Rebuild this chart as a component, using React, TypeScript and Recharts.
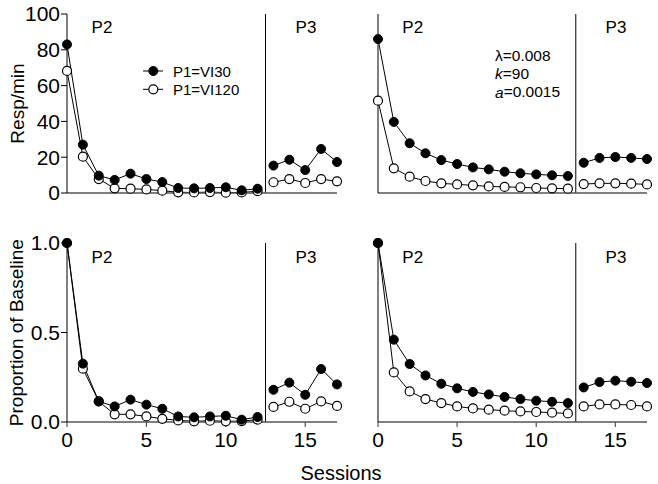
import React from "react";
import { LineChart, Line, XAxis, YAxis, ReferenceLine } from "recharts";

const sessions = [0, 1, 2, 3, 4, 5, 6, 7, 8, 9, 10, 11, 12, 13, 14, 15, 16, 17];
const phaseBreak = 12.5;
const lastP2Session = 12;

// Top-left: Resp/min (data)
const tlFilled = [83, 27, 9.7, 7.3, 10.8, 7.8, 6.1, 2.8, 2.6, 2.8, 3.2, 1.5, 2.4, 15.3, 18.6, 12.8, 24.6, 17.3];
const tlOpen = [68.2, 20.3, 7.8, 2.6, 2.4, 2.0, 1.3, 0.4, 0.3, 0.5, 0.2, 0.3, 1.0, 6.0, 7.8, 5.6, 7.8, 6.5];
// Top-right: Resp/min (model)
const trFilled = [86, 39.7, 27.8, 22.2, 18.4, 16.2, 14.3, 13.2, 11.9, 11.0, 10.4, 9.9, 9.5, 16.9, 19.6, 20.1, 19.6, 19.0];
const trOpen = [51.6, 13.8, 9.1, 6.7, 5.4, 4.8, 4.3, 3.7, 3.4, 3.2, 2.8, 2.6, 2.4, 5.0, 5.4, 5.4, 5.2, 4.8];
// Bottom-left: proportion of baseline (data)
const blFilled = [1.0, 0.326, 0.115, 0.087, 0.125, 0.097, 0.074, 0.031, 0.026, 0.031, 0.035, 0.013, 0.028, 0.18, 0.22, 0.152, 0.296, 0.21];
const blOpen = [1.0, 0.298, 0.115, 0.043, 0.043, 0.031, 0.018, 0.009, 0.004, 0.007, 0.004, 0.005, 0.013, 0.084, 0.113, 0.074, 0.115, 0.09];
// Bottom-right: proportion of baseline (model)
const brFilled = [1.0, 0.46, 0.324, 0.26, 0.214, 0.188, 0.168, 0.154, 0.14, 0.128, 0.119, 0.113, 0.106, 0.193, 0.223, 0.231, 0.225, 0.218];
const brOpen = [1.0, 0.277, 0.171, 0.128, 0.106, 0.087, 0.076, 0.069, 0.063, 0.059, 0.056, 0.052, 0.048, 0.087, 0.098, 0.098, 0.095, 0.087];

const respTicks = [0, 20, 40, 60, 80, 100];
const propTicks = [0, 0.5, 1.0];
const xTicks = [0, 5, 10, 15];
const legendLabels = ["P1=VI30", "P1=VI120"];

const FONT = "'Liberation Sans', Arial, Helvetica, sans-serif";

function buildRows(filled: number[], open: number[]) {
  return sessions.map((s, i) => {
    const p2 = s <= lastP2Session;
    return {
      x: s,
      fA: p2 ? filled[i] : null,
      oA: p2 ? open[i] : null,
      fB: p2 ? null : filled[i],
      oB: p2 ? null : open[i],
    };
  });
}

const filledDot = { r: 4.5, fill: "#000", stroke: "#000", strokeWidth: 1 };
const openDot = { r: 4.5, fill: "#fff", stroke: "#000", strokeWidth: 1.2 };

type PanelProps = {
  rows: any[];
  width: number;
  height: number;
  yWidth: number;
  xHeight: number;
  yDomain: [number, number];
  yTicks: number[];
  showY: boolean;
  showX: boolean;
  yFmt?: (v: number) => string;
};

function Panel(p: PanelProps) {
  const tickStyle = { fill: "#000", fontSize: 21, fontFamily: FONT };
  return (
    <LineChart
      width={p.width}
      height={p.height}
      data={p.rows}
      margin={{ top: 14, right: 8, bottom: 0, left: 0 }}
    >
      <XAxis
        type="number"
        dataKey="x"
        domain={[0, 17]}
        ticks={xTicks}
        height={p.xHeight}
        tick={p.showX ? tickStyle : false}
        tickSize={5}
        tickMargin={5}
        axisLine={{ stroke: "#555", strokeWidth: 1.5 }}
        tickLine={{ stroke: "#555", strokeWidth: 1.2 }}
      />
      <YAxis
        type="number"
        domain={p.yDomain}
        ticks={p.yTicks}
        width={p.yWidth}
        tick={p.showY ? tickStyle : false}
        tickFormatter={p.yFmt}
        tickSize={6}
        tickMargin={1}
        axisLine={{ stroke: "#000", strokeWidth: 1 }}
        tickLine={{ stroke: "#000", strokeWidth: 1 }}
      />
      <ReferenceLine x={phaseBreak} stroke="#000" strokeWidth={1} />
      <Line dataKey="oA" stroke="#000" strokeWidth={1} dot={openDot} isAnimationActive={false} connectNulls={false} />
      <Line dataKey="oB" stroke="#000" strokeWidth={1} dot={openDot} isAnimationActive={false} connectNulls={false} />
      <Line dataKey="fA" stroke="#000" strokeWidth={1} dot={filledDot} isAnimationActive={false} connectNulls={false} />
      <Line dataKey="fB" stroke="#000" strokeWidth={1} dot={filledDot} isAnimationActive={false} connectNulls={false} />
    </LineChart>
  );
}

const propFmt = (v: number) => v.toFixed(1);

export default function App() {
  const phaseLabels = [
    [102, 27, "P2"], [306, 27, "P3"], [412.7, 27, "P2"], [616, 27, "P3"],
    [102, 257.7, "P2"], [306, 257.7, "P3"], [412.7, 257.7, "P2"], [616, 257.7, "P3"],
  ] as [number, number, string][];
  return (
    <div style={{ position: "absolute", left: 0, top: 0, width: 658, height: 484, background: "#fff", fontFamily: FONT }}>
      <div style={{ position: "absolute", left: 0, top: 0 }}>
        <Panel rows={buildRows(tlFilled, tlOpen)} width={345} height={215} yWidth={67} xHeight={22}
          yDomain={[0, 100]} yTicks={respTicks} showY={true} showX={false} />
      </div>
      <div style={{ position: "absolute", left: 330, top: 0 }}>
        <Panel rows={buildRows(trFilled, trOpen)} width={325} height={215} yWidth={48} xHeight={22}
          yDomain={[0, 100]} yTicks={respTicks} showY={false} showX={false} />
      </div>
      <div style={{ position: "absolute", left: 0, top: 229 }}>
        <Panel rows={buildRows(blFilled, blOpen)} width={345} height={223} yWidth={67} xHeight={30}
          yDomain={[0, 1]} yTicks={propTicks} showY={true} showX={true} yFmt={propFmt} />
      </div>
      <div style={{ position: "absolute", left: 330, top: 229 }}>
        <Panel rows={buildRows(brFilled, brOpen)} width={325} height={223} yWidth={48} xHeight={30}
          yDomain={[0, 1]} yTicks={propTicks} showY={false} showX={true} yFmt={propFmt} />
      </div>
      <svg width={658} height={484} style={{ position: "absolute", left: 0, top: 0, pointerEvents: "none" }}
        fontFamily={FONT}>
        <text transform="translate(17,103.5) rotate(-90)" textAnchor="middle" dominantBaseline="central" fontSize={19}>Resp/min</text>
        <text transform="translate(16,332.7) rotate(-90)" textAnchor="middle" dominantBaseline="central" fontSize={19}>Proportion of Baseline</text>
        <text x={341} y={473} textAnchor="middle" dominantBaseline="central" fontSize={20}>Sessions</text>
        {phaseLabels.map(([x, y, t], i) => (
          <text key={i} x={x} y={y} textAnchor="middle" dominantBaseline="central" fontSize={17}>{t}</text>
        ))}
        <line x1={143} x2={163} y1={71} y2={71} stroke="#000" strokeWidth={1} />
        <circle cx={153.3} cy={71} r={4.5} fill="#000" stroke="#000" />
        <text x={173} y={71} dominantBaseline="central" fontSize={15}>{legendLabels[0]}</text>
        <line x1={143} x2={163} y1={89.3} y2={89.3} stroke="#000" strokeWidth={1} />
        <circle cx={153.3} cy={89.3} r={4.5} fill="#fff" stroke="#000" strokeWidth={1.2} />
        <text x={173} y={89.3} dominantBaseline="central" fontSize={15}>{legendLabels[1]}</text>
        <text x={495} y={55} dominantBaseline="central" fontSize={15.5}>λ=0.008</text>
        <text x={495} y={73.3} dominantBaseline="central" fontSize={15.5}><tspan fontStyle="italic">k</tspan>=90</text>
        <text x={495} y={91.7} dominantBaseline="central" fontSize={15.5}><tspan fontStyle="italic">a</tspan>=0.0015</text>
      </svg>
    </div>
  );
}
